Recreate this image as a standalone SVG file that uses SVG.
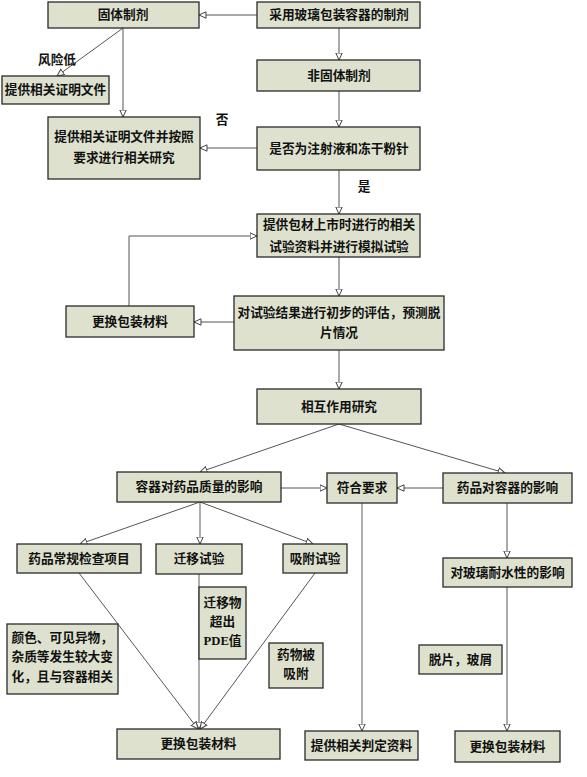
<svg xmlns="http://www.w3.org/2000/svg" width="587" height="777" viewBox="0 0 587 777">
<style>
.box{fill:#dee1cd;stroke:#2a2a2a;stroke-width:1.3}
.t{font-family:"Liberation Serif","Noto Sans CJK SC",serif;font-size:12.7px;font-weight:bold;fill:#111;text-anchor:middle;dominant-baseline:central}
.tl{text-anchor:start}
.c{fill:none;stroke:#555;stroke-width:1}
.g{fill:none;stroke:#9a9a9a;stroke-width:1.6}
</style>
<defs>
<marker id="a" viewBox="0 0 8 8" refX="7.5" refY="4" markerWidth="8" markerHeight="8" markerUnits="userSpaceOnUse" orient="auto">
<path d="M0.5,0.8 L7.5,4 L0.5,7.2 z" fill="#fff" stroke="#444" stroke-width="1"/>
</marker>
</defs>
<rect width="587" height="777" fill="#fff"/>
<g id="connectors">
<line class="c" x1="257" y1="15" x2="199" y2="15" marker-end="url(#a)"/>
<line class="c" x1="339" y1="28" x2="339" y2="60" marker-end="url(#a)"/>
<line class="c" x1="339" y1="91" x2="339" y2="127" marker-end="url(#a)"/>
<line class="c" x1="257" y1="148" x2="200" y2="148" marker-end="url(#a)"/>
<line class="c" x1="123" y1="28" x2="57" y2="76" marker-end="url(#a)"/>
<line class="c" x1="123" y1="28" x2="123" y2="117" marker-end="url(#a)"/>
<line class="c" x1="339" y1="170" x2="339" y2="214" marker-end="url(#a)"/>
<line class="c" x1="339" y1="257" x2="339" y2="296" marker-end="url(#a)"/>
<line class="c" x1="234" y1="322" x2="194" y2="322" marker-end="url(#a)"/>
<polyline class="c" points="129,306 129,236 257,236" marker-end="url(#a)"/>
<line class="c" x1="339" y1="350" x2="339" y2="389" marker-end="url(#a)"/>
<line class="c" x1="339" y1="424" x2="200" y2="472" marker-end="url(#a)"/>
<line class="c" x1="339" y1="424" x2="505" y2="473" marker-end="url(#a)"/>
<line class="c" x1="281" y1="488" x2="327" y2="488" marker-end="url(#a)"/>
<line class="c" x1="443" y1="488" x2="397" y2="488" marker-end="url(#a)"/>
<line class="c" x1="200" y1="502" x2="80" y2="544" marker-end="url(#a)"/>
<line class="g" x1="200" y1="502" x2="200" y2="544" marker-end="url(#a)"/>
<line class="c" x1="200" y1="502" x2="313" y2="544" marker-end="url(#a)"/>
<line class="g" x1="362" y1="503" x2="362" y2="731" marker-end="url(#a)"/>
<line class="c" x1="507" y1="503" x2="507" y2="558" marker-end="url(#a)"/>
<line class="c" x1="507" y1="587" x2="507" y2="731" marker-end="url(#a)"/>
<line class="c" x1="79" y1="573" x2="198" y2="729" marker-end="url(#a)"/>
<line class="g" x1="199" y1="574" x2="199" y2="729" marker-end="url(#a)"/>
<line class="c" x1="315" y1="573" x2="200" y2="729" marker-end="url(#a)"/>
</g>
<g id="n1"><rect class="box" x="257" y="2" width="163" height="26"/><text class="t" x="339" y="15">采用玻璃包装容器的制剂</text></g>
<g id="n2"><rect class="box" x="48" y="2" width="151" height="26"/><text class="t" x="123" y="15">固体制剂</text></g>
<g id="n3"><rect class="box" x="2" y="76" width="107" height="28"/><text class="t" x="55.5" y="90">提供相关证明文件</text></g>
<g id="n4"><rect class="box" x="257" y="60" width="163" height="31"/><text class="t" x="339" y="75.5">非固体制剂</text></g>
<g id="n5"><rect class="box" x="48" y="117" width="152" height="62"/><text class="t" x="124" y="137">提供相关证明文件并按照</text><text class="t" x="124" y="158">要求进行相关研究</text></g>
<g id="n6"><rect class="box" x="257" y="127" width="163" height="43"/><text class="t" x="339" y="148.5">是否为注射液和冻干粉针</text></g>
<g id="n7"><rect class="box" x="257" y="214" width="163" height="43"/><text class="t" x="339" y="225">提供包材上市时进行的相关</text><text class="t" x="339" y="247">试验资料并进行模拟试验</text></g>
<g id="n8"><rect class="box" x="234" y="296" width="210" height="54"/><text class="t" x="339" y="313">对试验结果进行初步的评估，预测脱</text><text class="t" x="339" y="333">片情况</text></g>
<g id="n9"><rect class="box" x="66" y="306" width="128" height="31"/><text class="t" x="130" y="321.5">更换包装材料</text></g>
<g id="n10"><rect class="box" x="257" y="389" width="164" height="35"/><text class="t" x="339" y="406.5">相互作用研究</text></g>
<g id="n11"><rect class="box" x="117" y="472" width="164" height="30"/><text class="t" x="199" y="487">容器对药品质量的影响</text></g>
<g id="n12"><rect class="box" x="327" y="473" width="70" height="30"/><text class="t" x="362" y="488">符合要求</text></g>
<g id="n13"><rect class="box" x="443" y="473" width="129" height="30"/><text class="t" x="507.5" y="488">药品对容器的影响</text></g>
<g id="n14"><rect class="box" x="17" y="544" width="124" height="29"/><text class="t" x="79" y="558.5">药品常规检查项目</text></g>
<g id="n15"><rect class="box" x="156" y="544" width="86" height="30"/><text class="t" x="199" y="559">迁移试验</text></g>
<g id="n16"><rect class="box" x="283" y="544" width="64" height="29"/><text class="t" x="315" y="558.5">吸附试验</text></g>
<g id="n17"><rect class="box" x="443" y="558" width="129" height="29"/><text class="t" x="507.5" y="572.5">对玻璃耐水性的影响</text></g>
<g id="n18"><rect class="box" x="199" y="587" width="47" height="72"/><text class="t" x="222.5" y="603">迁移物</text><text class="t" x="222.5" y="622">超出</text><text class="t" x="222.5" y="641">PDE值</text></g>
<g id="n19"><rect class="box" x="7" y="624" width="111" height="70"/><text class="t tl" x="11.5" y="638">颜色、可见异物，</text><text class="t tl" x="11.5" y="657">杂质等发生较大变</text><text class="t tl" x="11.5" y="677">化，且与容器相关</text></g>
<g id="n20"><rect class="box" x="269" y="643" width="54" height="45"/><text class="t" x="296" y="655">药物被</text><text class="t" x="296" y="674">吸附</text></g>
<g id="n21"><rect class="box" x="419" y="645" width="83" height="29"/><text class="t" x="460.5" y="659.5">脱片，玻屑</text></g>
<g id="n22"><rect class="box" x="117" y="729" width="163" height="30"/><text class="t" x="198.5" y="744">更换包装材料</text></g>
<g id="n23"><rect class="box" x="305" y="731" width="113" height="29"/><text class="t" x="361.5" y="745.5">提供相关判定资料</text></g>
<g id="n24"><rect class="box" x="455" y="731" width="105" height="31"/><text class="t" x="507.5" y="746.5">更换包装材料</text></g>
<g id="labels">
<text class="t" x="57" y="60">风险低</text>
<text class="t" x="222" y="120">否</text>
<text class="t" x="364" y="187">是</text>
</g>
</svg>
